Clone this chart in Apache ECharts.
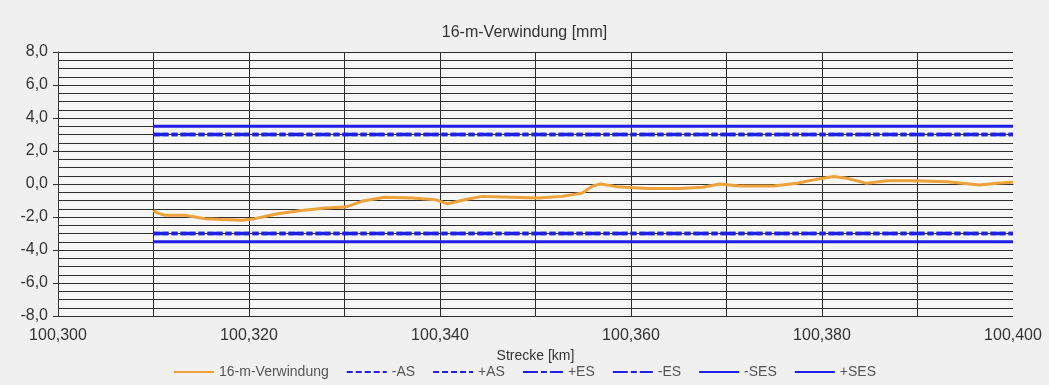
<!DOCTYPE html>
<html>
<head>
<meta charset="utf-8">
<script src="https://cdn.jsdelivr.net/npm/echarts@6/dist/echarts.min.js"></script>
<style>
html,body{margin:0;padding:0;background:#f0f0f0;}
#chart{width:1049px;height:385px;}
</style>
</head>
<body>
<div id="chart"></div>
<script>
// Strecke [km]
const streckeKm = [
  100.3100, 100.3104, 100.3112, 100.3133, 100.3154, 100.3172, 100.3193, 100.3206,
  100.3230, 100.3255, 100.3280, 100.3301, 100.3318, 100.3342, 100.3371, 100.3395,
  100.3408, 100.3426, 100.3444, 100.3475, 100.3503, 100.3528, 100.3549, 100.3560,
  100.3568, 100.3585, 100.3617, 100.3651, 100.3675, 100.3693, 100.3714, 100.3749,
  100.3774, 100.3791, 100.3812, 100.3826, 100.3847, 100.3868, 100.3895, 100.3931,
  100.3965, 100.3983, 100.4000
];
// 16-m-Verwindung [mm]
const verwindung = [
  -1.6, -1.75, -1.9, -1.9, -2.1, -2.15, -2.2, -2.1,
  -1.8, -1.6, -1.45, -1.4, -1.05, -0.8, -0.85, -0.95,
  -1.2, -0.95, -0.75, -0.8, -0.85, -0.75, -0.55, -0.12,
  0.0, -0.16, -0.27, -0.27, -0.2, 0.0, -0.12, -0.12,
  0.04, 0.25, 0.45, 0.35, 0.04, 0.2, 0.2, 0.14,
  -0.06, 0.04, 0.1
];
// Schwellen (threshold lines)
const schwelleKm = [100.310, 100.400];
const minusAS = [-3.0, -3.0];
const plusAS = [3.0, 3.0];
const plusES = [3.0, 3.0];
const minusES = [-3.0, -3.0];
const minusSES = [-3.5, -3.5];
const plusSES = [3.5, 3.5];

const xTicks = [100.300, 100.320, 100.340, 100.360, 100.380, 100.400];

const pair = (xs, ys) => xs.map((x, i) => [x, ys[i]]);
const blue = '#1f1fe6';
const font = 'Liberation Sans, Arial, sans-serif';
const gridColor = '#2e2e2e';

const chart = echarts.init(document.getElementById('chart'));
chart.setOption({
  backgroundColor: '#f0f0f0',
  animation: false,
  title: {
    text: '16-m-Verwindung [mm]',
    left: 'center',
    top: 20,
    textStyle: {fontFamily: font, fontSize: 16, fontWeight: 'normal', color: '#333'}
  },
  legend: {
    bottom: 1,
    left: 'center',
    itemWidth: 40,
    itemHeight: 10,
    itemGap: 17,
    itemStyle: {color: 'transparent', borderColor: 'transparent', borderWidth: 0},
    textStyle: {fontFamily: font, fontSize: 14, color: '#555'},
    data: ['16-m-Verwindung', '-AS', '+AS', '+ES', '-ES', '-SES', '+SES']
  },
  grid: {left: 58, right: 36, top: 52, bottom: 69, show: true, backgroundColor: '#f7f7f7', borderWidth: 0},
  xAxis: {
    type: 'value',
    min: 100.3,
    max: 100.4,
    interval: 0.01,
    name: 'Strecke [km]',
    nameLocation: 'middle',
    nameGap: 21,
    nameTextStyle: {fontFamily: font, fontSize: 14, color: '#333'},
    axisLine: {show: true, lineStyle: {color: '#333', width: 1}},
    axisTick: {show: false},
    axisLabel: {
      fontFamily: font, fontSize: 16, color: '#333', margin: 12,
      formatter: function (v) {
        const m = Math.round(v * 1000);
        for (const t of xTicks) {
          if (Math.round(t * 1000) === m) return (m / 1000).toFixed(3).replace('.', ',');
        }
        return '';
      }
    },
    splitLine: {show: true, showMaxLine: false, lineStyle: {color: gridColor, width: 1}}
  },
  yAxis: {
    type: 'value',
    min: -8,
    max: 8,
    interval: 2,
    axisLine: {show: true, lineStyle: {color: '#333', width: 1}},
    axisTick: {show: true, length: 5, lineStyle: {color: '#333'}},
    axisLabel: {
      fontFamily: font, fontSize: 16, color: '#333', margin: 10,
      formatter: v => v.toFixed(1).replace('.', ',')
    },
    splitLine: {show: true, lineStyle: {color: gridColor, width: 1}},
    minorTick: {show: false, splitNumber: 4},
    minorSplitLine: {show: true, lineStyle: {color: gridColor, width: 1}}
  },
  series: [
    {name: '16-m-Verwindung', type: 'line', data: pair(streckeKm, verwindung), symbol: 'none',
     lineStyle: {color: '#eea23a', width: 3}, itemStyle: {color: '#eea23a'}, z: 5},
    {name: '-AS', type: 'line', data: pair(schwelleKm, minusAS), symbol: 'none',
     lineStyle: {color: blue, width: 3.5, type: [6, 3]}, itemStyle: {color: blue}},
    {name: '+AS', type: 'line', data: pair(schwelleKm, plusAS), symbol: 'none',
     lineStyle: {color: blue, width: 3.5, type: [6, 3]}, itemStyle: {color: blue}},
    {name: '+ES', type: 'line', data: pair(schwelleKm, plusES), symbol: 'none',
     lineStyle: {color: blue, width: 3.5, type: [15, 3, 6, 3]}, itemStyle: {color: blue}},
    {name: '-ES', type: 'line', data: pair(schwelleKm, minusES), symbol: 'none',
     lineStyle: {color: blue, width: 3.5, type: [15, 3, 6, 3]}, itemStyle: {color: blue}},
    {name: '-SES', type: 'line', data: pair(schwelleKm, minusSES), symbol: 'none',
     lineStyle: {color: blue, width: 3}, itemStyle: {color: blue}},
    {name: '+SES', type: 'line', data: pair(schwelleKm, plusSES), symbol: 'none',
     lineStyle: {color: blue, width: 3}, itemStyle: {color: blue}}
  ]
});
</script>
</body>
</html>
